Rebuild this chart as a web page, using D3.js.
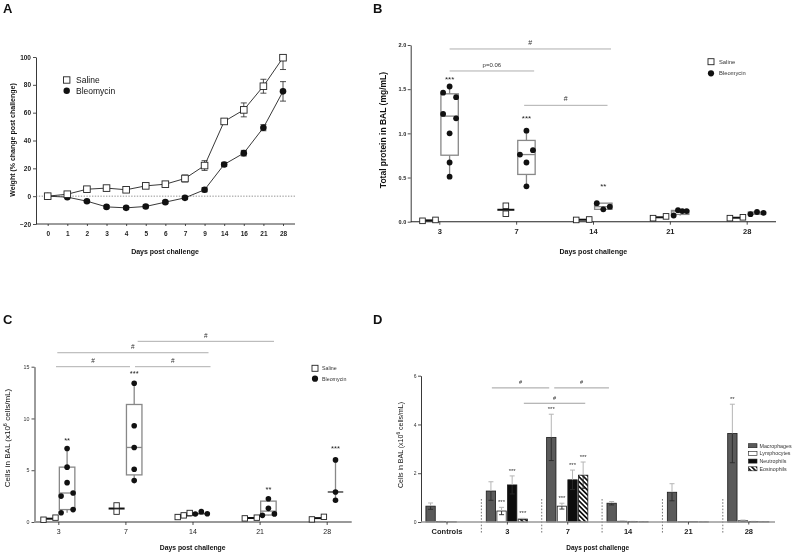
<!DOCTYPE html>
<html><head><meta charset="utf-8">
<script src="https://cdn.jsdelivr.net/npm/d3@7"></script>
<style>
html,body{margin:0;padding:0;background:#fff;}
svg{display:block;font-family:"Liberation Sans",Arial,Helvetica,sans-serif;will-change:transform;-webkit-font-smoothing:antialiased;}
</style></head><body>
<svg id="c" width="796" height="555"></svg>
<script>
// ================= DATA =================
// Panel A – body weight
const daysA = ["0","1","2","3","4","5","6","7","9","14","16","21","28"];
const salineWeight    = [0, 1.4, 5, 5.8, 4.6, 7.4, 8.6, 12.7, 22, 53.7, 62, 79, 99.5];
const salineWeightErr = [0.5, 0.8, 1, 1, 1, 1, 1, 2.5, 3.5, 1.5, 5, 5, 8.5];
const bleoWeight      = [0, -0.7, -3.6, -7.7, -8.4, -7.4, -4.3, -1.2, 4.6, 22.8, 30.9, 49.2, 75.3];
const bleoWeightErr   = [0.5, 0.5, 0.8, 1, 1, 1, 1, 1, 1.5, 1.5, 2, 2.2, 7];
const weightTicks = [-20, 0, 20, 40, 60, 80, 100];

// Panels B, C – days
const daysBC = ["3","7","14","21","28"];
// Panel B – total protein (mg/mL)
const salineProtein = [[0.01,0.02],[0.18,0.09],[0.02,0.025],[0.04,0.06],[0.04,0.05]];
const bleoProtein   = [[1.46,1.53,1.41,1.22,1.17,1.0,0.67,0.51],[1.03,0.76,0.81,0.67,0.40],[0.21,0.14,0.17],[0.07,0.13,0.12,0.12],[0.085,0.11,0.10]];
const proteinTicks = [0, 0.5, 1.0, 1.5, 2.0];
const proteinStars = [["3","***",1.63],["7","***",1.18],["14","**",0.41]];

// Panel C – total cells (x10^6 cells/mL)
const salineCells = [[0.22,0.42],[1.6,1.0],[0.48,0.64,0.87],[0.35,0.42],[0.25,0.5]];
const bleoCells   = [[7.1,5.3,3.8,2.5,2.8,0.9,1.2],[13.4,9.3,7.2,5.1,4.0],[0.77,1.0,0.8],[2.25,1.32,0.64,0.78],[6.0,2.9,2.1]];
const cellTicks = [0, 5, 10, 15];
const cellStars = [["3","**",8.0],["7","***",14.5],["21","**",3.3],["28","***",7.27]];

// Panel D – differential counts
const groupsD = ["Controls","3","7","14","21","28"];
const cellTypes = ["Macrophages","Lymphocytes","Neutrophils","Eosinophils"];
const macrophages    = [0.65, 1.27, 3.47, 0.77, 1.22, 3.63];
const macrophagesErr = [0.13, 0.38, 0.95, 0.07, 0.35, 1.2];
const lymphocytes    = [0.02, 0.45, 0.65, 0.03, 0.01, 0.05];
const lymphocytesErr = [0.005, 0.15, 0.12, 0.01, 0, 0.03];
const neutrophils    = [0.005, 1.52, 1.73, 0.02, 0.01, 0.02];
const neutrophilsErr = [0, 0.37, 0.4, 0.005, 0, 0.005];
const eosinophils    = [0, 0.12, 1.92, 0.01, 0.005, 0.01];
const eosinophilsErr = [0, 0.03, 0.54, 0, 0, 0];
const diffTicks = [0, 2, 4, 6];
const diffStars = [["3","Lymphocytes","***"],["3","Neutrophils","***"],["3","Eosinophils","***"],
                   ["7","Macrophages","***"],["7","Lymphocytes","***"],["7","Neutrophils","***"],["7","Eosinophils","***"],
                   ["28","Macrophages","**"]];

// ================= DRAWING =================
const svg = d3.select("#c");
svg.append("rect").attr("width",796).attr("height",555).attr("fill","#fff");
const defs = svg.append("defs");
const pat = defs.append("pattern").attr("id","hatch").attr("patternUnits","userSpaceOnUse")
  .attr("width",3.4).attr("height",3.4).attr("patternTransform","rotate(-45)");
pat.append("rect").attr("width",3.4).attr("height",3.4).attr("fill","#fff");
pat.append("rect").attr("width",1.7).attr("height",3.4).attr("fill","#111");

function T(g, x, y, s, o = {}) {
  const t = g.append("text").attr("x", x).attr("y", y)
    .attr("font-size", o.size || 7).attr("font-weight", o.bold ? "bold" : "normal")
    .attr("text-anchor", o.anchor || "middle").attr("fill", o.fill || "#111");
  if (o.rot) t.attr("transform", `rotate(${o.rot},${x},${y})`);
  if (o.html) t.html(s); else t.text(s);
  return t;
}
function styleAxis(a, size, bold, col) {
  a.selectAll("text").attr("font-size", size).attr("font-weight", bold ? "bold" : "normal")
    .attr("fill", col || "#222").attr("font-family", null);
  a.selectAll("line").attr("stroke", "#222").attr("stroke-width", 0.8);
  a.select(".domain").attr("stroke", "#222").attr("stroke-width", 0.9);
}
function gq(sorted, p) {
  const n = sorted.length; let pos = (n + 1) * p;
  if (pos < 1) pos = 1; if (pos > n) pos = n;
  const lo = Math.floor(pos), f = pos - lo;
  return lo >= n ? sorted[n - 1] : sorted[lo - 1] + f * (sorted[lo] - sorted[lo - 1]);
}
function spreadOffsets(vals, y, w, thr) {
  const idx = vals.map((v, i) => i).sort((a, b) => vals[a] - vals[b]);
  const clusters = []; let cur = [idx[0]];
  for (let k = 1; k < idx.length; k++) {
    if (Math.abs(y(vals[idx[k]]) - y(vals[idx[k - 1]])) < thr) cur.push(idx[k]);
    else { clusters.push(cur); cur = [idx[k]]; }
  }
  clusters.push(cur);
  const off = vals.map(() => 0);
  clusters.forEach(c => {
    if (c.length > 1) c.slice().sort((a, b) => a - b).forEach((i, j) => off[i] = -w + 2 * w * j / (c.length - 1));
  });
  return off;
}

// ---------- Panel A ----------
(function () {
  const g = svg.append("g");
  const x = d3.scalePoint().domain(daysA).range([47.7, 283]);
  const y = d3.scaleLinear().domain([-20, 100]).range([224, 57]);
  const ay = g.append("g").attr("transform", "translate(36,0)")
    .call(d3.axisLeft(y).tickValues(weightTicks).tickFormat(d3.format("d")).tickSize(3).tickPadding(2).tickSizeOuter(0));
  styleAxis(ay, 6.5, true);
  const ax = g.append("g").attr("transform", "translate(0,224)")
    .call(d3.axisBottom(x).tickSize(2).tickPadding(5));
  styleAxis(ax, 6.5, true);
  ax.select(".domain").attr("d", "M36,0H295");
  g.append("line").attr("x1", 36).attr("x2", 295).attr("y1", y(0)).attr("y2", y(0))
    .attr("stroke", "#666").attr("stroke-width", 0.7).attr("stroke-dasharray", "1.4,1.4");
  const clip = defs.append("clipPath").attr("id", "clipA");
  clip.append("rect").attr("x", 30).attr("y", 56).attr("width", 270).attr("height", 175);
  const series = [[bleoWeight, bleoWeightErr], [salineWeight, salineWeightErr]];
  series.forEach(([v, e]) => {
    const eg = g.append("g").attr("clip-path", "url(#clipA)");
    v.forEach((d, i) => {
      const cx = x(daysA[i]);
      eg.append("line").attr("x1", cx).attr("x2", cx).attr("y1", y(d - e[i])).attr("y2", y(d + e[i])).attr("stroke", "#222").attr("stroke-width", 0.8);
      [d - e[i], d + e[i]].forEach(t => eg.append("line").attr("x1", cx - 3).attr("x2", cx + 3).attr("y1", y(t)).attr("y2", y(t)).attr("stroke", "#222").attr("stroke-width", 0.8));
    });
  });
  const line = d3.line().x((d, i) => x(daysA[i])).y(d => y(d));
  g.append("path").attr("d", line(bleoWeight)).attr("fill", "none").attr("stroke", "#222").attr("stroke-width", 0.9);
  g.append("path").attr("d", line(salineWeight)).attr("fill", "none").attr("stroke", "#222").attr("stroke-width", 0.9);
  g.selectAll(null).data(bleoWeight).join("circle").attr("cx", (d, i) => x(daysA[i])).attr("cy", d => y(d)).attr("r", 3.3).attr("fill", "#111");
  g.selectAll(null).data(salineWeight).join("rect").attr("x", (d, i) => x(daysA[i]) - 3.3).attr("y", d => y(d) - 3.3)
    .attr("width", 6.6).attr("height", 6.6).attr("fill", "#fff").attr("stroke", "#222").attr("stroke-width", 0.9);
  // legend
  g.append("rect").attr("x", 63.5).attr("y", 76.8).attr("width", 6.4).attr("height", 6.4).attr("fill", "#fff").attr("stroke", "#222").attr("stroke-width", 0.9);
  g.append("circle").attr("cx", 66.7).attr("cy", 90.7).attr("r", 3.2).attr("fill", "#111");
  T(g, 76, 83, "Saline", { size: 8.5, anchor: "start" });
  T(g, 76, 93.7, "Bleomycin", { size: 8.5, anchor: "start" });
  T(g, 13, 140, "Weight (% change post challenge)", { size: 7, bold: true, rot: -90 }).attr("dy", "0.35em");
  T(g, 165, 253.5, "Days post challenge", { size: 7, bold: true });
  T(g, 3, 13, "A", { size: 13, bold: true, anchor: "start" });
})();

// ---------- Generic scatter / box panel ----------
function scatterBox(g, o) {
  o.cats.forEach((c, i) => {
    const cx = o.x(c);
    const sv = o.saline[i], sx = cx - o.off;
    const sOff = spreadOffsets(sv, o.y, o.spread, o.thr);
    const sMed = d3.median(sv);
    g.append("line").attr("x1", sx - o.medW / 2).attr("x2", sx + o.medW / 2).attr("y1", o.y(sMed)).attr("y2", o.y(sMed))
      .attr("stroke", "#111").attr("stroke-width", 2);
    sv.forEach((v, j) => g.append("rect").attr("x", sx + sOff[j] - o.sq / 2).attr("y", o.y(v) - o.sq / 2)
      .attr("width", o.sq).attr("height", o.sq).attr("fill", "#fff").attr("stroke", "#222").attr("stroke-width", 0.9));
    const bv = o.bleo[i], bx = cx + o.off;
    const s = bv.slice().sort(d3.ascending);
    const q1 = gq(s, 0.25), q3 = gq(s, 0.75), med = gq(s, 0.5);
    g.append("line").attr("x1", bx).attr("x2", bx).attr("y1", o.y(s[0])).attr("y2", o.y(s[s.length - 1]))
      .attr("stroke", "#888").attr("stroke-width", 1.3);
    const box = bv.length >= o.boxMinN;
    if (box) g.append("rect").attr("x", bx - o.boxW / 2).attr("y", o.y(q3)).attr("width", o.boxW).attr("height", o.y(q1) - o.y(q3))
      .attr("fill", "#fff").attr("stroke", "#888").attr("stroke-width", 1.3);
    g.append("line").attr("x1", bx - o.boxW / 2).attr("x2", bx + o.boxW / 2).attr("y1", o.y(med)).attr("y2", o.y(med))
      .attr("stroke", box ? "#888" : "#555").attr("stroke-width", box ? 1.3 : 1.6);
    const bOff = spreadOffsets(bv, o.y, o.spread, o.thr);
    bv.forEach((v, j) => g.append("circle").attr("cx", bx + bOff[j]).attr("cy", o.y(v)).attr("r", o.r).attr("fill", "#111"));
  });
}

// ---------- Panel B ----------
(function () {
  const g = svg.append("g");
  const x = d3.scalePoint().domain(daysBC).range([439.3, 746.7]);
  const y = d3.scaleLinear().domain([0, 2]).range([221.7, 45]);
  const ay = g.append("g").attr("transform", "translate(410.7,0)")
    .call(d3.axisLeft(y).tickValues(proteinTicks).tickFormat(d3.format(".1f")).tickSize(3).tickPadding(1.5).tickSizeOuter(0));
  styleAxis(ay, 5.5, true);
  const ax = g.append("g").attr("transform", "translate(0,221.7)")
    .call(d3.axisBottom(x).tickSize(3).tickPadding(4));
  styleAxis(ax, 7.5, true);
  ax.select(".domain").attr("d", "M410.7,0H776").attr("stroke-width", 1.1);
  scatterBox(g, { x, y, cats: daysBC, saline: salineProtein, bleo: bleoProtein, off: 10.3, spread: 6.5, boxW: 17.4,
    r: 2.9, sq: 5.6, medW: 17, thr: 5.5, boxMinN: 3 });
  const sig = [[x("3") + 10.3, x("14") + 18, 1.955, "#"], [x("3") + 10.3, x("7") + 18, 1.706, "p=0.06"], [x("7") + 8, x("14") + 14.5, 1.317, "#"]];
  sig.forEach(([a, b, lv, lab]) => {
    g.append("line").attr("x1", a).attr("x2", b).attr("y1", y(lv)).attr("y2", y(lv)).attr("stroke", "#999").attr("stroke-width", 0.8);
    T(g, (a + b) / 2, y(lv) - 4, lab, { size: lab === "#" ? 7 : 6, fill: "#333" });
  });
  proteinStars.forEach(([c, lab, v]) => T(g, x(c) + 10.3, y(v) + 4, lab, { size: 8, fill: "#222" }));
  g.append("rect").attr("x", 708).attr("y", 58.7).attr("width", 6).attr("height", 6).attr("fill", "#fff").attr("stroke", "#222").attr("stroke-width", 0.9);
  g.append("circle").attr("cx", 711).attr("cy", 73.3).attr("r", 3.1).attr("fill", "#111");
  T(g, 719, 63.8, "Saline", { size: 5.8, anchor: "start", fill: "#333" });
  T(g, 719, 75.4, "Bleomycin", { size: 5.8, anchor: "start", fill: "#333" });
  T(g, 383, 130, "Total protein in BAL (mg/mL)", { size: 8.5, bold: true, rot: -90 }).attr("dy", "0.35em");
  T(g, 593.3, 253.5, "Days post challenge", { size: 7, bold: true });
  T(g, 373, 13, "B", { size: 13, bold: true, anchor: "start" });
})();

// ---------- Panel C ----------
(function () {
  const g = svg.append("g");
  const x = d3.scalePoint().domain(daysBC).range([58.3, 326.7]);
  const y = d3.scaleLinear().domain([0, 15]).range([522, 366.7]);
  const ay = g.append("g").attr("transform", "translate(34.5,0)")
    .call(d3.axisLeft(y).tickValues(cellTicks).tickFormat(d3.format("d")).tickSize(3).tickPadding(2).tickSizeOuter(0));
  styleAxis(ay, 5.3, false, "#333");
  const ax = g.append("g").attr("transform", "translate(0,522)")
    .call(d3.axisBottom(x).tickSize(3).tickPadding(4));
  styleAxis(ax, 7, false);
  ax.select(".domain").attr("d", "M34.5,0H351.7").attr("stroke", "#999").attr("stroke-width", 1.8);
  scatterBox(g, { x, y, cats: daysBC, saline: salineCells, bleo: bleoCells, off: 8.8, spread: 6, boxW: 15.5,
    r: 2.8, sq: 5.4, medW: 16, thr: 5.5, boxMinN: 4 });
  const sig = [[x("3") - 2.3, x("7") + 4.6, 15.0], [x("7") + 9.6, x("14") + 18, 15.0],
               [x("3") - 1, x("14") + 16, 16.35], [x("7") + 12.3, x("21") + 14.4, 17.45]];
  sig.forEach(([a, b, lv]) => {
    g.append("line").attr("x1", a).attr("x2", b).attr("y1", y(lv)).attr("y2", y(lv)).attr("stroke", "#999").attr("stroke-width", 0.8);
    T(g, (a + b) / 2, y(lv) - 3.5, "#", { size: 6.5, fill: "#333" });
  });
  cellStars.forEach(([c, lab, v]) => T(g, x(c) + 8.8, y(v) + 4, lab, { size: 7.5, fill: "#222" }));
  g.append("rect").attr("x", 312).attr("y", 365.3).attr("width", 6).attr("height", 6).attr("fill", "#fff").attr("stroke", "#222").attr("stroke-width", 0.9);
  g.append("circle").attr("cx", 315).attr("cy", 378.7).attr("r", 3.1).attr("fill", "#111");
  T(g, 322, 370.3, "Saline", { size: 5.3, anchor: "start", fill: "#333" });
  T(g, 322, 380.7, "Bleomycin", { size: 5.3, anchor: "start", fill: "#333" });
  T(g, 7, 438, "Cells in BAL (x10<tspan dy='-3' font-size='5.5'>6</tspan><tspan dy='3'> cells/mL)</tspan>", { size: 8, rot: -90, html: true }).attr("dy", "0.35em");
  T(g, 192.7, 550, "Days post challenge", { size: 6.8, bold: true });
  T(g, 3, 324, "C", { size: 13, bold: true, anchor: "start" });
})();

// ---------- Panel D ----------
(function () {
  const g = svg.append("g");
  const x = d3.scalePoint().domain(groupsD).range([446.5, 748.3]);
  const inner = d3.scaleBand().domain(cellTypes).range([-20.6, 20.6]).paddingInner(0.12);
  const y = d3.scaleLinear().domain([0, 6]).range([522, 375.7]);
  const vals = { Macrophages: [macrophages, macrophagesErr], Lymphocytes: [lymphocytes, lymphocytesErr],
                 Neutrophils: [neutrophils, neutrophilsErr], Eosinophils: [eosinophils, eosinophilsErr] };
  const fills = { Macrophages: "#5a5a5a", Lymphocytes: "#fff", Neutrophils: "#0d0d0d", Eosinophils: "url(#hatch)" };
  groupsD.slice(1).forEach(gr => g.append("line").attr("x1", x(gr) - 25.5).attr("x2", x(gr) - 25.5).attr("y1", 499).attr("y2", 534)
    .attr("stroke", "#555").attr("stroke-width", 0.8).attr("stroke-dasharray", "1.6,1.6"));
  const ay = g.append("g").attr("transform", "translate(421,0)")
    .call(d3.axisLeft(y).tickValues(diffTicks).tickFormat(d3.format("d")).tickSize(3).tickPadding(1.5).tickSizeOuter(0));
  styleAxis(ay, 5, false, "#333");
  groupsD.forEach((gr, i) => {
    cellTypes.forEach(ct => {
      const v = vals[ct][0][i], e = vals[ct][1][i];
      const bx = x(gr) + inner(ct), w = inner.bandwidth(), cx = bx + w / 2;
      if (v > 0) g.append("rect").attr("x", bx).attr("y", y(v)).attr("width", w).attr("height", y(0) - y(v))
        .attr("fill", fills[ct]).attr("stroke", "#1a1a1a").attr("stroke-width", 0.8);
      if (e > 0) {
        g.append("line").attr("x1", cx).attr("x2", cx).attr("y1", y(v)).attr("y2", y(v + e)).attr("stroke", "#b5b5b5").attr("stroke-width", 1);
        g.append("line").attr("x1", cx - 2.5).attr("x2", cx + 2.5).attr("y1", y(v + e)).attr("y2", y(v + e)).attr("stroke", "#b5b5b5").attr("stroke-width", 1);
        g.append("line").attr("x1", cx).attr("x2", cx).attr("y1", y(v)).attr("y2", y(Math.max(0, v - e))).attr("stroke", "#2a2a2a").attr("stroke-width", 0.9);
        g.append("line").attr("x1", cx - 2.5).attr("x2", cx + 2.5).attr("y1", y(Math.max(0, v - e))).attr("y2", y(Math.max(0, v - e))).attr("stroke", "#2a2a2a").attr("stroke-width", 0.9);
      }
    });
  });
  const ax = g.append("g").attr("transform", "translate(0,522)")
    .call(d3.axisBottom(x).tickSize(2.5).tickPadding(4));
  styleAxis(ax, 7.5, true);
  ax.select(".domain").attr("d", "M421,0H775").attr("stroke", "#999").attr("stroke-width", 1.5);
  diffStars.forEach(([gr, ct, lab]) => {
    const i = groupsD.indexOf(gr), v = vals[ct][0][i] + vals[ct][1][i];
    T(g, x(gr) + inner(ct) + inner.bandwidth() / 2, y(v) - 3, lab, { size: 6, fill: "#333" });
  });
  const sig = [[x("3") - 15, x("7") - 18, 5.5], [x("7") - 13, x("14") - 18.6, 5.5], [x("3") + 17, x("7") + 18, 4.87]];
  sig.forEach(([a, b, lv]) => {
    g.append("line").attr("x1", a).attr("x2", b).attr("y1", y(lv)).attr("y2", y(lv)).attr("stroke", "#888").attr("stroke-width", 0.8);
    T(g, (a + b) / 2, y(lv) - 3.5, "#", { size: 5.5, fill: "#333" });
  });
  cellTypes.forEach((ct, k) => {
    const ly = 445.7 + k * 7.7;
    g.append("rect").attr("x", 748.5).attr("y", ly - 2).attr("width", 8.5).attr("height", 4).attr("fill", fills[ct]).attr("stroke", "#1a1a1a").attr("stroke-width", 0.6);
    T(g, 759.5, ly + 2, ct, { size: 5.3, anchor: "start", fill: "#333" });
  });
  T(g, 400.5, 445, "Cells in BAL (x10<tspan dy='-2.5' font-size='4.8'>6</tspan><tspan dy='2.5'> cells/mL)</tspan>", { size: 7, rot: -90, html: true }).attr("dy", "0.35em");
  T(g, 597.7, 549.5, "Days post challenge", { size: 6.5, bold: true });
  T(g, 373, 324, "D", { size: 13, bold: true, anchor: "start" });
})();
</script>
</body></html>
